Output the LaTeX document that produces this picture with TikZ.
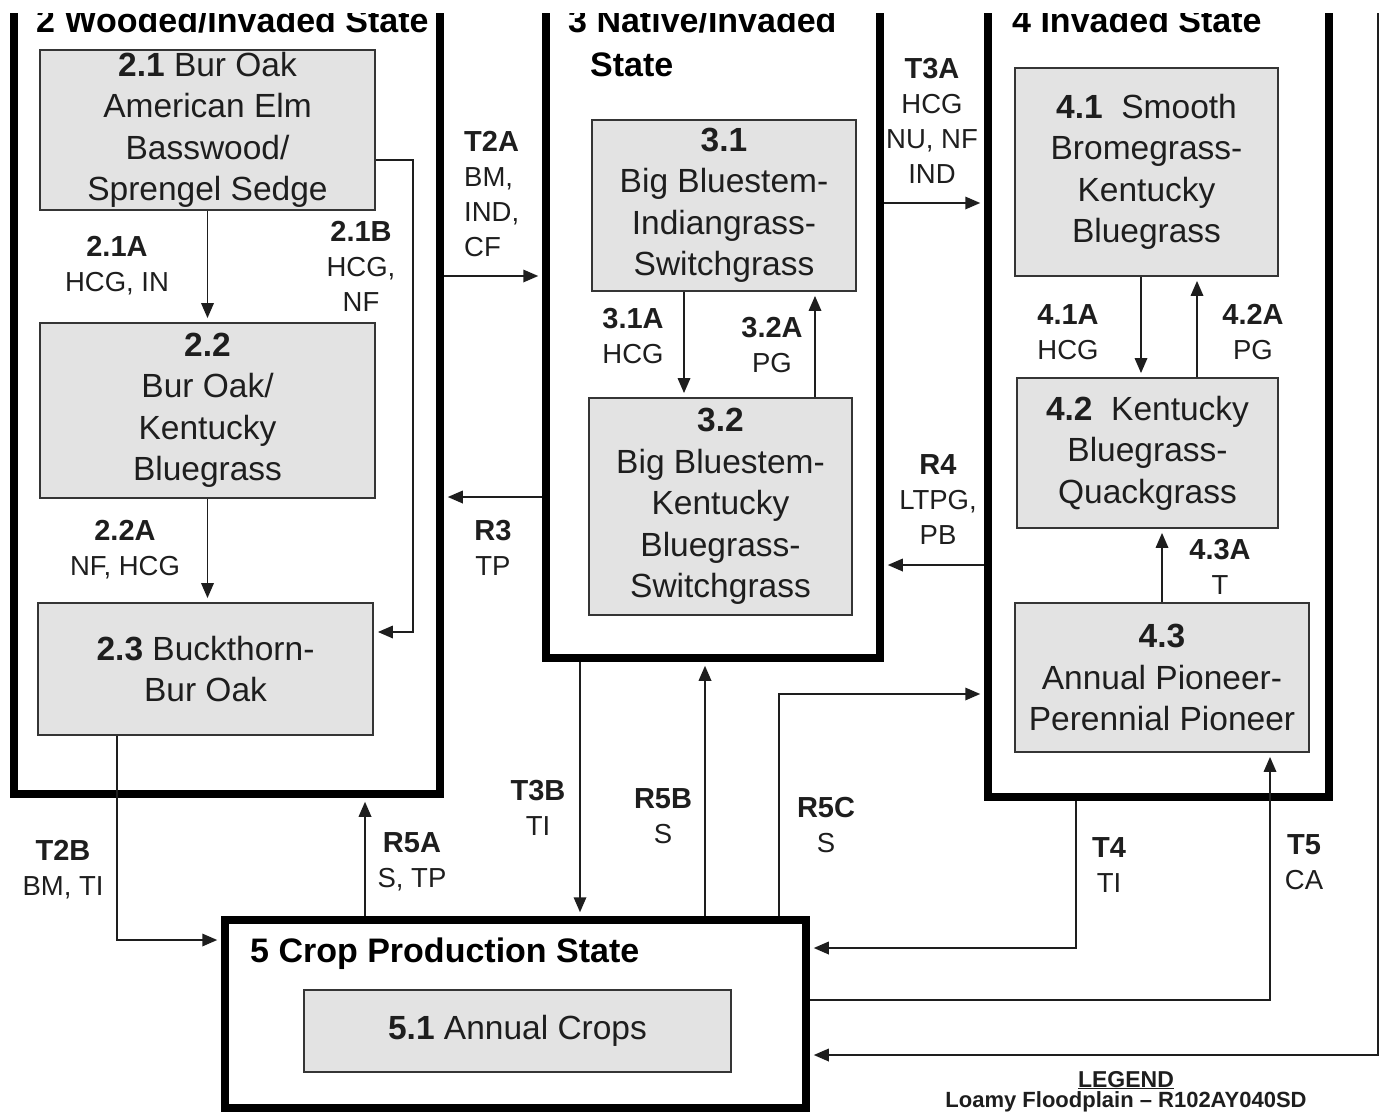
\documentclass[tikz,border=0pt]{standalone}
\usepackage{fontspec}
\setmainfont{Liberation Sans}
\usetikzlibrary{arrows.meta}
\definecolor{boxgray}{HTML}{E3E3E3}
\definecolor{ink}{HTML}{1E1E1E}
\newcommand\myboxfont{\fontsize{33.5}{41.5}\selectfont}
\newcommand\mylblfont{\fontsize{27.5}{35}\selectfont}
\newcommand\mylh[1]{{\fontsize{29}{35}\selectfont\bfseries #1}}
\newcommand\mytitlefont{\fontsize{34}{44}\selectfont\bfseries}
\tikzset{
  statebox/.style={draw=black,line width=7.5pt,inner sep=0pt,outer sep=3.75pt},
  phasebox/.style={draw=ink!90,line width=1.8pt,fill=boxgray,inner sep=0pt,align=center,font=\myboxfont,text=ink},
  lbl/.style={align=center,font=\mylblfont,inner sep=0pt,text=ink},
  title/.style={font=\mytitlefont,inner sep=0pt,anchor=base west,text=black,align=left},
  conn/.style={line width=1.8pt,draw=ink,-{Triangle[length=15pt,width=12.5pt]},shorten >=4pt}
}
\begin{document}
\begin{tikzpicture}[x=1pt,y=-1pt]
\useasboundingbox (0,0) rectangle (1388,1113);
\begin{scope}
\clip (0,14) rectangle (1388,1113);
% states
\node[statebox,minimum width=426pt,minimum height=834pt] (s2) at (227,377) {};
\node[statebox,minimum width=334pt,minimum height=698pt] (s3) at (713,309) {};
\node[statebox,minimum width=341pt,minimum height=837pt] (s4) at (1158.5,378.5) {};
\node[statebox,minimum width=581pt,minimum height=188pt] (s5) at (515.5,1014) {};
% titles
\node[title] (t2) at (36,33) {2 Wooded/Invaded State};
\node[title,anchor=north west] (t3) at (568,8) {3 Native/Invaded\\\hspace*{22pt}State};
\node[title] (t4) at (1012,33) {4 Invaded State};
\node[title] (t5) at (250,962) {5 Crop Production State};
% phases
\node[phasebox,minimum width=335pt,minimum height=160pt] (b21) at (207.5,130) {\textbf{2.1} Bur Oak\\American Elm\\Basswood/\\Sprengel Sedge};
\node[phasebox,minimum width=335pt,minimum height=175pt] (b22) at (207.5,410.5) {\textbf{2.2}\\Bur Oak/\\Kentucky\\Bluegrass};
\node[phasebox,minimum width=335pt,minimum height=132pt] (b23) at (205.5,669) {\textbf{2.3} Buckthorn-\\Bur Oak};
\node[phasebox,minimum width=264pt,minimum height=171pt] (b31) at (724,205.5) {\textbf{3.1}\\Big Bluestem-\\Indiangrass-\\Switchgrass};
\node[phasebox,minimum width=263pt,minimum height=217pt] (b32) at (720.5,506.5) {\textbf{3.2}\\Big Bluestem-\\Kentucky\\Bluegrass-\\Switchgrass};
\node[phasebox,minimum width=263pt,minimum height=208pt] (b41) at (1146.5,172) {\textbf{4.1}\ \ Smooth\\Bromegrass-\\Kentucky\\Bluegrass};
\node[phasebox,minimum width=261pt,minimum height=150pt] (b42) at (1147.5,453) {\textbf{4.2}\ \ Kentucky\\Bluegrass-\\Quackgrass};
\node[phasebox,minimum width=294pt,minimum height=149pt] (b43) at (1162,677.5) {\textbf{4.3}\\Annual Pioneer-\\Perennial Pioneer};
\node[phasebox,minimum width=427pt,minimum height=82pt] (b51) at (517.5,1031) {\textbf{5.1} Annual Crops};
% connectors
\coordinate (topin) at (1378,0);
\draw[conn] (b21.south) -- (b22.north);
\draw[conn] (b22.south) -- (b22.south |- b23.north);
\draw[conn] (b21.east |- 0,160) -- (413,160) -- (413,632) -- (b23.east |- 0,632);
\draw[conn] (s2.east |- 0,276) -- (s3.west |- 0,276);
\draw[conn] (s3.west |- 0,497) -- (s2.east |- 0,497);
\draw[conn] (b31.south -| 684,0) -- (b32.north -| 684,0);
\draw[conn] (b32.north -| 815,0) -- (b31.south -| 815,0);
\draw[conn] (s3.east |- 0,203) -- (s4.west |- 0,203);
\draw[conn] (s4.west |- 0,565) -- (s3.east |- 0,565);
\draw[conn] (b41.south -| 1141,0) -- (b42.north -| 1141,0);
\draw[conn] (b42.north -| 1197,0) -- (b41.south -| 1197,0);
\draw[conn] (b43.north -| 1162,0) -- (b42.south -| 1162,0);
\draw[conn] (b23.south -| 117,0) -- (117,940) -- (s5.west |- 0,940);
\draw[conn] (s5.north -| 365,0) -- (s2.south -| 365,0);
\draw[conn] (s3.south -| 580,0) -- (s5.north -| 580,0);
\draw[conn] (s5.north -| 705,0) -- (s3.south -| 705,0);
\draw[conn] (s5.north -| 779,0) -- (779,694) -- (s4.west |- 0,694);
\draw[conn] (s4.south -| 1076,0) -- (1076,948) -- (s5.east |- 0,948);
\draw[conn] (s5.east |- 0,1000) -- (1270,1000) -- (b43.south -| 1270,0);
\draw[conn] (topin) -- (1378,1055) -- (s5.east |- 0,1055);
% labels
\node[lbl] (l21a) at (117,266) {\mylh{2.1A}\\HCG, IN};
\node[lbl] (l21b) at (361,266) {\mylh{2.1B}\\HCG,\\NF};
\node[lbl] (l22a) at (125,550) {\mylh{2.2A}\\NF, HCG};
\node[lbl,align=left,anchor=west] (lt2a) at (464,194) {\mylh{T2A}\\BM,\\IND,\\CF};
\node[lbl] (lr3) at (493,548) {\mylh{R3}\\TP};
\node[lbl] (l31a) at (633,336) {\mylh{3.1A}\\HCG};
\node[lbl] (l32a) at (772,345) {\mylh{3.2A}\\PG};
\node[lbl] (lt3a) at (932,121) {\mylh{T3A}\\HCG\\NU, NF\\IND};
\node[lbl] (lr4) at (938,500) {\mylh{R4}\\LTPG,\\PB};
\node[lbl] (l41a) at (1068,332) {\mylh{4.1A}\\HCG};
\node[lbl] (l42a) at (1253,332) {\mylh{4.2A}\\PG};
\node[lbl] (l43a) at (1220,567) {\mylh{4.3A}\\T};
\node[lbl] (lt2b) at (63,870) {\mylh{T2B}\\BM, TI};
\node[lbl] (lr5a) at (412,862) {\mylh{R5A}\\S, TP};
\node[lbl] (lt3b) at (538,808) {\mylh{T3B}\\TI};
\node[lbl] (lr5b) at (663,816) {\mylh{R5B}\\S};
\node[lbl] (lr5c) at (826,825) {\mylh{R5C}\\S};
\node[lbl] (lt4) at (1109,865) {\mylh{T4}\\TI};
\node[lbl] (lt5) at (1304,862) {\mylh{T5}\\CA};
% legend
\node[font=\fontsize{23}{28}\selectfont\bfseries,anchor=base,inner sep=0pt,text=ink] (leg) at (1126,1087) {\underline{LEGEND}};
\node[font=\fontsize{22}{28}\selectfont\bfseries,anchor=base,inner sep=0pt,text=ink] (leg2) at (1126,1107.5) {Loamy Floodplain -- R102AY040SD};
\end{scope}
\end{tikzpicture}
\end{document}
